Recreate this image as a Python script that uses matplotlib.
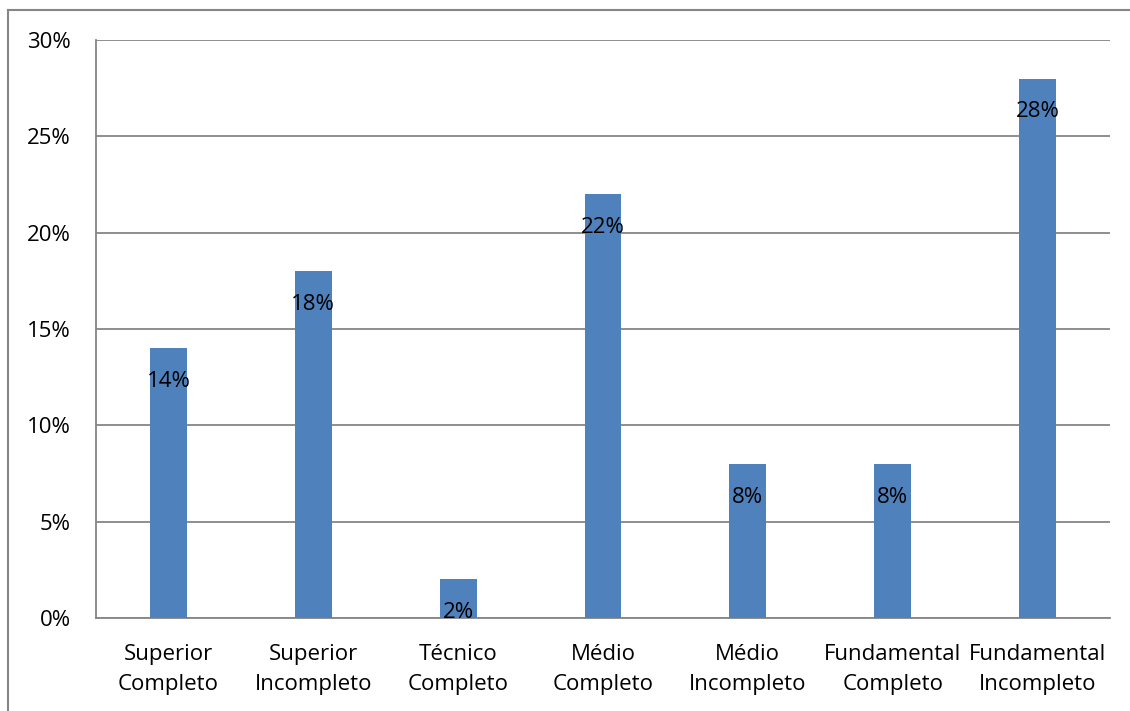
import matplotlib
matplotlib.use("Agg")
import matplotlib.pyplot as plt
from matplotlib.lines import Line2D
from matplotlib.ticker import FuncFormatter, MultipleLocator

# Escolaridade dos entrevistados
categorias = ["Superior\nCompleto", "Superior\nIncompleto", "Técnico\nCompleto",
              "Médio\nCompleto", "Médio\nIncompleto", "Fundamental\nCompleto",
              "Fundamental\nIncompleto"]
percentuais = [14, 18, 2, 22, 8, 8, 28]

plt.rcParams['font.family'] = ['Open Sans', 'DejaVu Sans']

W, H = 1130, 711
fig = plt.figure(figsize=(W / 100, H / 100), dpi=100)
ax = fig.add_axes([96 / W, 1 - 618 / H, (1110 - 96) / W, (618 - 40) / H])

cor_barra = "#4F81BD"
cinza = "#868686"
fs = 16

x = range(len(categorias))
bars = ax.bar(x, percentuais, width=0.255, color=cor_barra, zorder=3)

for b, v in zip(bars, percentuais):
    ax.annotate(f"{v}%", (b.get_x() + b.get_width() / 2, v),
                xytext=(0, -24), textcoords="offset points",
                ha="center", va="center", fontsize=fs, color="black", zorder=4)

ax.set_xlim(-0.5, len(categorias) - 0.5)
ax.set_ylim(0, 30)
ax.yaxis.set_major_locator(MultipleLocator(5))
ax.yaxis.set_major_formatter(FuncFormatter(lambda v, p: f"{v:.0f}%"))
ax.grid(axis="y", color=cinza, linewidth=1.3, zorder=0)
ax.set_xticks(list(x))
ax.set_xticklabels(categorias, fontsize=fs, linespacing=1.6)
ax.tick_params(axis="both", length=0, labelsize=fs)
ax.tick_params(axis="y", pad=18)
ax.tick_params(axis="x", pad=18.5)

for s in ("top", "right"):
    ax.spines[s].set_visible(False)
for s in ("left", "bottom"):
    ax.spines[s].set_color(cinza)
    ax.spines[s].set_linewidth(1.3)

# moldura do gráfico
fig.add_artist(Line2D([7.5 / W, 7.5 / W], [0, 1 - 10 / H], color=cinza, linewidth=1.5))
fig.add_artist(Line2D([7.5 / W, 1], [1 - 10 / H, 1 - 10 / H], color=cinza, linewidth=1.5))

fig.savefig("out.png", dpi=100, facecolor="white")
